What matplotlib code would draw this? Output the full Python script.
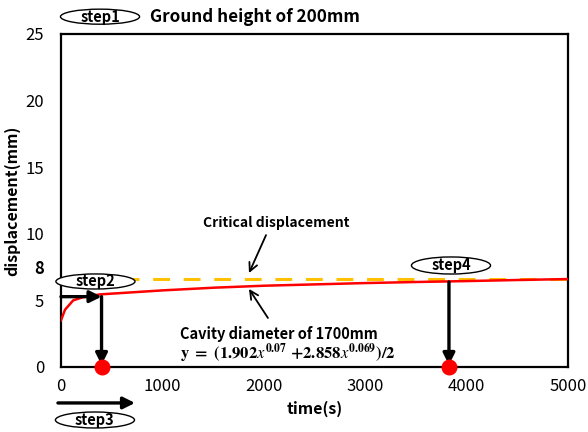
"""
Desplazamiento vs tiempo para cavidad de 1700mm (altura de suelo 200mm).
"""
import numpy as np
import matplotlib
matplotlib.use("Agg")
import matplotlib.pyplot as plt
from matplotlib.patches import Ellipse

plt.rcParams['font.family'] = ['Noto Sans CJK KR', 'DejaVu Sans']
plt.rcParams['mathtext.fontset'] = 'stix'

# Datos
time_s = [0, 40, 120, 220, 385, 1000, 1500, 2000, 2500, 3000, 3500, 4000, 4500, 5000]
disp_mm = [3.5, 4.3, 5.0, 5.25, 5.45, 5.75, 5.95, 6.1, 6.2, 6.3, 6.38, 6.45, 6.53, 6.6]
critical_disp = 6.64
step2_point = (400, 5.28)
step4_point = (3826, 6.38)
x_ticks = [0, 1000, 2000, 3000, 4000, 5000]
y_ticks = [0, 5, 7.5, 10, 15, 20, 25]
y_tick_labels = ['0', '5', '8', '10', '15', '20', '25']

fig = plt.figure(figsize=(5.88, 4.32), dpi=100)
ax = fig.add_axes([0.1037, 0.1505, 0.8623, 0.7708])

# Curvas
ax.plot([0, 5000], [critical_disp, critical_disp], color='#FFC000', lw=2.2,
        dashes=(5.5, 4.5), zorder=2)
ax.plot(time_s, disp_mm, color='red', lw=1.8, zorder=3)

# Flechas de los pasos
arrow_kw = dict(arrowstyle='-|>,head_length=0.7,head_width=0.35', color='black', lw=2.4,
                shrinkA=0, shrinkB=0)
ax.annotate('', xy=step2_point, xytext=(0, step2_point[1]), arrowprops=arrow_kw, zorder=4)
ax.annotate('', xy=(step2_point[0], 0.15), xytext=step2_point, arrowprops=arrow_kw, zorder=4)
ax.annotate('', xy=(step4_point[0], 0.15), xytext=step4_point, arrowprops=arrow_kw, zorder=4)
ax.annotate('', xy=(730, -2.7), xytext=(-30, -2.7), arrowprops=arrow_kw,
            annotation_clip=False)

# Puntos rojos en el eje
ax.scatter([step2_point[0], step4_point[0]], [0, 0], s=110, color='red', zorder=6,
           clip_on=False)

# Elipses con etiquetas de paso
steps = [('step1', 385, 26.3, 1.13), ('step2', 340, 6.42, 1.13),
         ('step3', 335, -3.98, 1.2), ('step4', 3846, 7.62, 1.28)]
for name, cx, cy, h in steps:
    e = Ellipse((cx, cy), 780, h, facecolor='white', edgecolor='black', lw=1.0,
                zorder=7, clip_on=False)
    ax.add_patch(e)
    ax.text(cx, cy, name, ha='center', va='center', fontsize=10.5, fontweight='bold',
            zorder=8, clip_on=False)

# Anotaciones de texto
ax.text(2120, 10.8, 'Critical displacement', ha='center', va='center', fontsize=10,
        fontweight='bold')
thin_arrow = dict(arrowstyle='->,head_length=0.6,head_width=0.3', color='black', lw=1.3,
                  shrinkA=0, shrinkB=0)
ax.annotate('', xy=(1854, 7.05), xytext=(2022, 9.9), arrowprops=thin_arrow)
ax.annotate('', xy=(1854, 5.86), xytext=(2041, 3.68), arrowprops=thin_arrow)
ax.text(1174, 2.48, 'Cavity diameter of 1700mm', ha='left', va='center', fontsize=10.5,
        fontweight='bold')
ax.text(1174, 1.05,
        r'$\mathbf{y\ =\ (1.902}\mathit{x}^{\mathbf{0.07}}\ \mathbf{+2.858}'
        r'\mathit{x}^{\mathbf{0.069}}\mathbf{)/2}$',
        ha='left', va='center', fontsize=12)

fig.text(150 / 588, 1 - 16.5 / 432, 'Ground height of 200mm', ha='left', va='center',
         fontsize=12.3, fontweight='bold')

# Ejes
ax.set_xlim(0, 5000)
ax.set_ylim(0, 25)
ax.set_xticks(x_ticks)
ax.set_yticks(y_ticks)
ax.set_yticklabels(y_tick_labels)
ax.get_yticklabels()[2].set_fontweight('bold')
ax.tick_params(length=0, labelsize=12)
ax.tick_params(axis='y', pad=12)
ax.tick_params(axis='x', pad=8)
for sp in ax.spines.values():
    sp.set_linewidth(1.6)
    sp.set_color('black')

ax.set_xlabel('time(s)', fontsize=11.5, fontweight='bold', labelpad=4)
ax.set_ylabel('displacement(mm)', fontsize=11.5, fontweight='bold', labelpad=4)

fig.savefig('out.png', dpi=100)
